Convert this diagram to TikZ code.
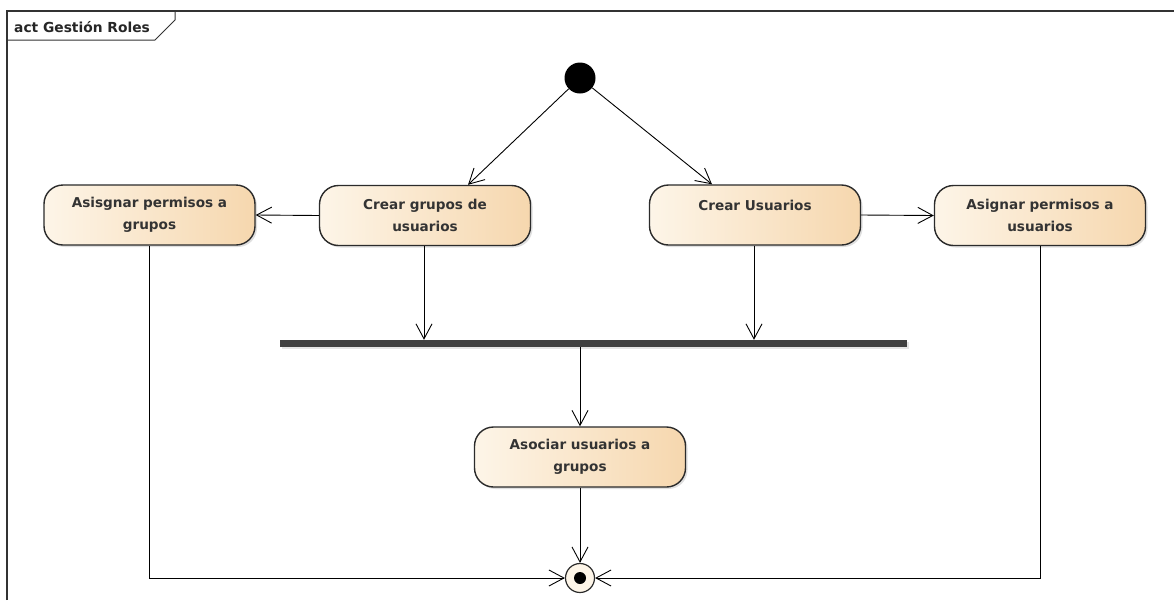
\documentclass[tikz,border=0pt]{standalone}
\usepackage{fontspec}
\setmainfont{DejaVu Sans}
\usetikzlibrary{arrows.meta,shadows,calc}
\definecolor{actL}{HTML}{FDF5E8}
\definecolor{actR}{HTML}{F6D7AE}
\definecolor{edgeC}{HTML}{2B2B2B}
\tikzset{
  action/.style={draw=edgeC, line width=1.4pt, rounded corners=19pt,
    left color=actL, right color=actR, minimum width=211pt, minimum height=60pt,
    align=center, inner sep=0pt,
    font=\fontsize{13.6}{22}\selectfont\bfseries, text=black!80,
    drop shadow={shadow xshift=2pt, shadow yshift=-2pt, opacity=0.25, fill=gray}},
  flow/.style={draw=black, line width=0.9pt, -{Straight Barb[length=15pt,width=16pt,line width=0.9pt]}},
  bar/.style={fill=black!75, draw=none, minimum width=627pt, minimum height=7pt, inner sep=0pt,
    drop shadow={shadow xshift=1.5pt, shadow yshift=-1.5pt, opacity=0.2, fill=gray}},
}
\begin{document}
\begin{tikzpicture}[x=1pt,y=-1pt]
  \useasboundingbox (0,0) rectangle (1174,600);
  \fill[white] (0,0) rectangle (1174,600);
  % diagram frame with its name tab
  \draw[line width=1.2pt, black!80] (7,600) -- (7,11) -- (1174,11);
  \draw[line width=1pt, black!80] (7,40) -- (155,40) -- (175,20) -- (175,11);
  \node[anchor=base west, font=\fontsize{13.8}{15}\selectfont\bfseries, text=black!85, inner sep=0pt] (frametitle) at (14,32) {act Gestión Roles};

  % initial and final nodes
  \node[circle, fill=black, minimum size=31pt, inner sep=0pt] (start) at (580,78) {};
  \node[circle, draw=edgeC, line width=1.2pt, fill=actL, minimum size=29pt, inner sep=0pt] (finish) at (580,578) {};
  \node[circle, fill=black, minimum size=12pt, inner sep=0pt] (finishdot) at (580,578) {};

  % actions
  \node[action] (asgGrupos) at (149.5,215) {Asisgnar permisos a\\grupos};
  \node[action] (crearGrupos) at (425,215.5) {Crear grupos de\\usuarios};
  \node[action, text depth=20pt] (crearUsuarios) at (755,215) {Crear Usuarios};
  \node[action] (asgUsuarios) at (1040,215.5) {Asignar permisos a\\usuarios};
  \node[action] (asociar) at (580,457) {Asociar usuarios a\\grupos};

  % join bar
  \node[bar] (join) at (593.5,343.5) {};

  % control flows
  \draw[flow] (start) -- (crearGrupos.north -| 468,0);
  \draw[flow] (start) -- (crearUsuarios.north -| 712,0);
  \draw[flow] (crearGrupos.west) -- (asgGrupos.east);
  \draw[flow] (crearUsuarios.east) -- (asgUsuarios.west);
  \draw[flow] (crearGrupos.south -| 424,0) -- (join.north -| 424,0);
  \draw[flow] (crearUsuarios.south -| 754,0) -- (join.north -| 754,0);
  \draw[flow] (join.south -| asociar.north) -- (asociar.north);
  \draw[flow] (asociar.south) -- (finish.north);
  \draw[flow] (asgGrupos.south) |- (finish.west);
  \draw[flow] (asgUsuarios.south) |- (finish.east);
\end{tikzpicture}
\end{document}
